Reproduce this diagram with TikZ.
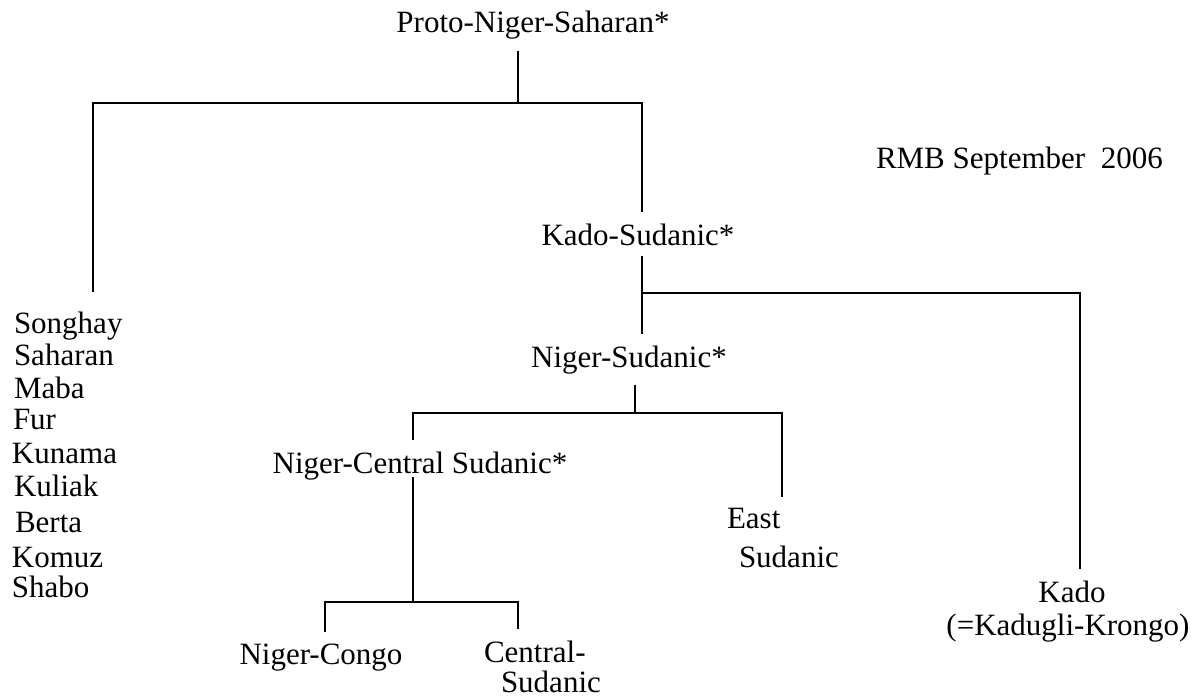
\documentclass[tikz,border=0pt]{standalone}
\usepackage{fontspec}
\setmainfont{Liberation Serif}

\begin{document}
\begin{tikzpicture}[x=1pt,y=-1pt,line width=2pt,
  every node/.style={font=\fontsize{31}{33}\selectfont,inner sep=10pt},
  grp/.style={anchor=base},
  leaf/.style={anchor=base west}]
  \useasboundingbox (0,0) rectangle (1194,698);

        % groups
        \node[grp]  (pns)  at (533,33)  {Proto-Niger-Saharan*};
        \node[grp]  (ks)   at (638,245) {Kado-Sudanic*};
        \node[grp]  (ns)   at (629,367) {Niger-Sudanic*};
        \node[grp]  (ncs)  at (420,473) {Niger-Central Sudanic*};
        \node[grp]  (nc)   at (321,664) {Niger-Congo};
        \node[leaf,align=left,inner ysep=2pt] (cs) at (473,692) {Central-\\[-3pt]\hspace*{17pt}Sudanic};
        \node[leaf] (es1)  at (716,528) {East};
        \node[leaf] (es2)  at (728,567) {Sudanic};
        \node[grp]  (kado) at (1072,602) {Kado};
        \node[grp]  (kk)   at (1068,635) {(=Kadugli-Krongo)};
        \node[leaf] (rmb)  at (865,168) {RMB September\ \ 2006};

        % isolates on the left
        \foreach \name/\x/\y in {Songhay/3/333,Saharan/3/365,Maba/3/398,Fur/2/429,
            Kunama/1/463,Kuliak/3/496,Berta/4/532,Komuz/1/567,Shabo/1/597}
          \node[leaf] (\name) at (\x,\y) {\name};

        % junctions
        \coordinate (top)  at (518,103);
        \coordinate (lend) at (93,292);
        \coordinate (ksj)  at (642,293);
        \coordinate (kdj)  at (1080,293);
        \coordinate (nsj)  at (635,413);
        \coordinate (ncsj) at (413,413);
        \coordinate (esj)  at (782,413);
        \coordinate (ncj)  at (413,602);
        \coordinate (ncl)  at (325,602);
        \coordinate (ncr)  at (518,602);

        \draw (pns.south -| top) -- (top);
        \draw (lend) |- (top) -| (ks.north -| ksj);
        \draw (ks.south -| ksj) -- (ns.north -| ksj);
        \draw (ksj) -| (kado.north -| kdj);
        \draw (ns.south -| nsj) -- (nsj);
        \draw (ncs.north -| ncsj) |- (esj) -- (esj |- es1.north);
        \draw ([yshift=-4pt]ncs.base -| ncj) -- (ncj);
        \draw (nc.north -| ncl) |- (ncr) -- ([yshift=8pt]cs.north -| ncr);

\end{tikzpicture}
\end{document}
